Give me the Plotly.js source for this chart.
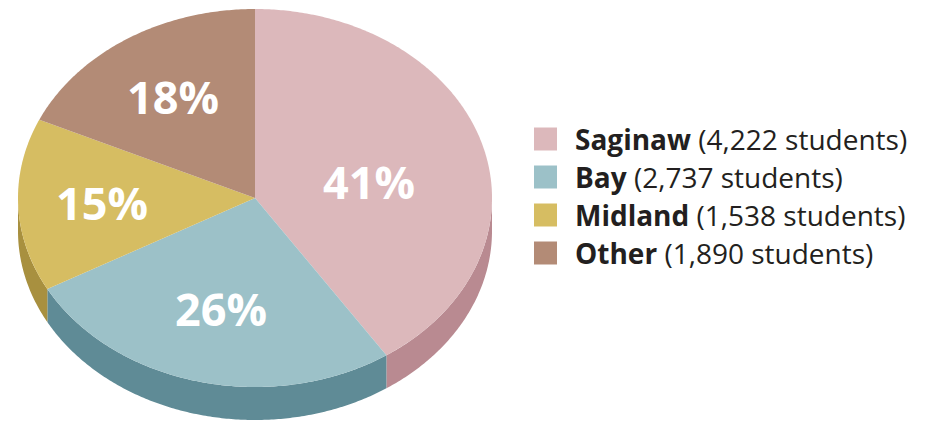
<!DOCTYPE html>
<html>
<head>
<meta charset="utf-8">
<script src="https://cdn.plot.ly/plotly-3.0.1.min.js"></script>
<style>html,body{margin:0;padding:0;background:#fff;}#chart{width:930px;height:424px;}</style>
</head>
<body>
<div id="chart"></div>
<script>
// ---- data ----
const categories = ['Saginaw', 'Bay', 'Midland', 'Other'];
const students = [4222, 2737, 1538, 1890];
const pctLabels = ['41%', '26%', '15%', '18%'];

// ---- style ----
const topColors = ['#dcb8bb', '#9cc1c8', '#d6bd62', '#b38b76'];
const sideColors = ['#b98a91', '#5f8b96', '#a8903f', '#8e6b5a'];
const geo = {cx: 255, cy: 198, rx: 237, ry: 189, depth: 33};
const labelPlace = [{r: 0.49, shift: 0.12}, {r: 0.6, shift: 0}, {r: 0.645, shift: 0}, {r: 0.64, shift: 0}];
const legendX = 573, legendSwatchX = 545.5, legendY0 = 139, legendStep = 38;
const FONT = '"Open Sans", "Noto Sans", sans-serif';

function pt(t, dy) {
  return [geo.cx + geo.rx * Math.sin(t), geo.cy - geo.ry * Math.cos(t) + (dy || 0)];
}
function arc(a, b, dy) {
  const n = Math.max(2, Math.ceil(Math.abs(b - a) / 0.01));
  const out = [];
  for (let i = 0; i <= n; i++) out.push(pt(a + (b - a) * i / n, dy));
  return out;
}

const total = students.reduce((s, v) => s + v, 0);
const sideTraces = [];
const topTraces = [];
const annotations = [];
let cum = 0;
students.forEach((v, i) => {
  const a = cum / total * 2 * Math.PI;
  cum += v;
  const b = cum / total * 2 * Math.PI;
  // side (visible lower half)
  const s = Math.max(a, Math.PI / 2), e = Math.min(b, 3 * Math.PI / 2);
  if (e > s) {
    const poly = arc(s, e, 0).concat(arc(e, s, geo.depth));
    poly.push(poly[0]);
    sideTraces.push({
      type: 'scatter', mode: 'none', fill: 'toself', fillcolor: sideColors[i],
      x: poly.map(p => p[0]), y: poly.map(p => p[1]), hoverinfo: 'skip', showlegend: false
    });
  }
  // top face
  const c = [geo.cx, geo.cy];
  const poly = [c].concat(arc(a, b, 0));
  poly.push(c);
  topTraces.push({
    type: 'scatter', mode: 'none', fill: 'toself', fillcolor: topColors[i],
    x: poly.map(p => p[0]), y: poly.map(p => p[1]), hoverinfo: 'skip', showlegend: false,
    name: categories[i]
  });
  // percentage label
  const m = (a + b) / 2 + labelPlace[i].shift;
  const r = labelPlace[i].r;
  annotations.push({
    x: geo.cx + geo.rx * r * Math.sin(m), y: geo.cy - geo.ry * r * Math.cos(m),
    xref: 'x', yref: 'y', text: '<b>' + pctLabels[i] + '</b>', showarrow: false,
    xanchor: 'center', yanchor: 'middle',
    font: {family: FONT, size: 45, color: '#ffffff'}
  });
  // legend text
  annotations.push({
    x: legendX, y: legendY0 + legendStep * i, xref: 'x', yref: 'y',
    text: '<b>' + categories[i] + '</b> (' + v.toLocaleString('en-US') + ' students)',
    showarrow: false, xanchor: 'left', yanchor: 'middle',
    font: {family: FONT, size: 28, color: '#231f20'}
  });
});

// legend swatches
const swatch = {
  type: 'scatter', mode: 'markers',
  x: categories.map(() => legendSwatchX),
  y: categories.map((_, i) => legendY0 + legendStep * i),
  marker: {symbol: 'square', size: 23, color: topColors, line: {width: 0}},
  hoverinfo: 'skip', showlegend: false
};

const data = sideTraces.concat(topTraces, [swatch]);

const layout = {
  width: 930, height: 424,
  margin: {l: 0, r: 0, t: 0, b: 0},
  paper_bgcolor: '#ffffff', plot_bgcolor: '#ffffff',
  showlegend: false,
  xaxis: {range: [0, 930], visible: false, fixedrange: true},
  yaxis: {range: [424, 0], visible: false, fixedrange: true},
  annotations: annotations
};

Plotly.newPlot('chart', data, layout, {staticPlot: true, displayModeBar: false});
</script>
</body>
</html>
